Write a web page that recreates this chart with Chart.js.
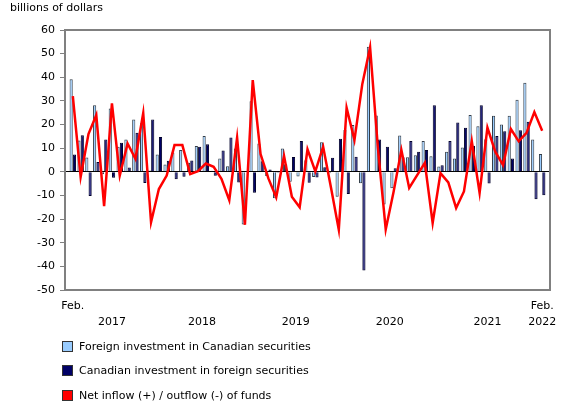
<!DOCTYPE html>
<html>
<head>
<meta charset="utf-8">
<script src="https://cdn.jsdelivr.net/npm/chart.js@4.4.1/dist/chart.umd.min.js"></script>
<style>
  body { margin: 0; background: #fff; font-family: "DejaVu Sans", Verdana, sans-serif; }
  #wrap { position: relative; width: 580px; height: 410px; }
  #legend { position: absolute; left: 62px; top: 340px; font-size: 11px; color: #000; }
  .item { display: flex; align-items: center; height: 12px; margin-bottom: 12.5px; }
  .box { width: 9px; height: 9px; border: 1px solid #333; margin-right: 6px; }
</style>
</head>
<body>
<div id="wrap">
  <canvas id="dataChart" width="580" height="410"></canvas>
  <div id="legend"></div>
</div>
<script>
// Feb. 2017 .. Feb. 2022, monthly (index 0 = Feb. 2017)
const startYear = 2017;
const startMonth = 1; // February
const months = [];
for (let i = 0; i < 61; i++) {
    const m = (startMonth + i) % 12;
    const y = startYear + Math.floor((startMonth + i) / 12);
    months.push(y + "-" + String(m + 1).padStart(2, "0"));
}

// billions of dollars
const foreignInCanada = [
    39.2, 13.3, 6.1, 28.2, -1.0, 26.8, 10.6, 13.7, 22.1, 20.5, 0.6, 7.3,
    3.1, 8.2, 9.2, 3.8, 10.9, 15.2, 0.4, 5.6, 2.4, 9.9, -22.3, 29.9,
    12.0, -1.8, -11.2, 9.9, -4.2, -2.0, 4.9, -2.2, 12.5, -0.6, -10.5, 17.7,
    19.8, -4.8, 52.9, 23.8, -13.8, -7.0, 15.4, 6.2, 7.0, 13.0, 6.6, 2.2,
    8.5, 5.6, 10.3, 24.0, 19.3, 13.8, 23.7, 20.0, 23.7, 30.5, 37.7, 13.7,
    7.5
];
const canadianAbroad = [
    7.3, 15.5, -10.2, 4.2, 13.7, -2.5, 12.3, 1.8, 16.5, -4.7, 22.1, 14.7,
    4.7, -3.1, -2.1, 4.8, 10.6, 11.7, -1.7, 9.0, 14.5, -4.5, 0.1, -8.9,
    4.5, 1.0, -0.4, 3.2, 6.3, 13.0, -4.6, -2.4, 1.9, 6.0, 14.0, -9.4,
    6.4, -41.8, 0.2, 13.7, 10.6, 1.5, 6.2, 13.0, 8.5, 9.2, 28.2, 2.8,
    13.0, 20.9, 18.6, 11.0, 28.2, -4.9, 15.2, 17.2, 5.6, 17.6, 21.2, -11.6,
    -9.9
];
const netFlow = [
    32.0, -2.2, 16.0, 24.0, -14.5, 29.0, -1.6, 12.0, 5.5, 24.8, -21.3, -7.3,
    -1.6, 11.3, 11.3, -1.0, 0.3, 3.5, 2.1, -3.0, -12.0, 14.4, -22.4, 38.8,
    7.5, -2.8, -10.8, 6.7, -10.5, -15.0, 9.5, 0.2, 10.6, -6.6, -24.5, 27.1,
    13.4, 37.0, 52.7, 10.1, -24.4, -8.5, 9.2, -6.8, -1.5, 3.8, -21.6, -0.6,
    -4.5, -15.3, -8.3, 13.0, -8.9, 18.7, 8.5, 2.8, 18.1, 12.9, 16.5, 25.3,
    17.4
];

// x-axis labels: position (month index) and text lines
const tickPositions = [0, 5, 16.5, 28.5, 40.5, 53, 60];
const tickLabels = [
    ["Feb.", ""], ["", "2017"], ["", "2018"], ["", "2019"],
    ["", "2020"], ["", "2021"], ["Feb.", "2022"]
];

const seriesNames = [
    "Foreign investment in Canadian securities",
    "Canadian investment in foreign securities",
    "Net inflow (+) / outflow (-) of funds"
];
const seriesColors = ["#99CCFF", "#000066", "#FF0000"];

const toPoints = (arr) => arr.map((v, i) => ({ x: i, y: v }));

const frame = {
    id: "frame",
    afterDraw(chart) {
        const { ctx, chartArea: a } = chart;
        ctx.save();
        ctx.strokeStyle = "#808080";
        ctx.lineWidth = 2;
        ctx.strokeRect(a.left, a.top, a.right - a.left, a.bottom - a.top);
        ctx.fillStyle = "#000";
        ctx.font = "11px 'DejaVu Sans'";
        ctx.textBaseline = "middle";
        ctx.fillText("billions of dollars", 10, 8);
        ctx.restore();
    }
};

const config = {
    data: {
        datasets: [{
            type: "bar",
            label: seriesNames[0],
            data: toPoints(foreignInCanada),
            backgroundColor: seriesColors[0],
            borderColor: "#333d48",
            borderWidth: 1,
            order: 1
        }, {
            type: "bar",
            label: seriesNames[1],
            data: toPoints(canadianAbroad),
            backgroundColor: seriesColors[1],
            borderColor: "#00002a",
            borderWidth: 1,
            order: 1
        }, {
            type: "line",
            label: seriesNames[2],
            data: toPoints(netFlow),
            borderColor: seriesColors[2],
            borderWidth: 2.5,
            pointRadius: 0,
            tension: 0,
            order: 0
        }]
    },
    options: {
        responsive: false,
        animation: false,
        layout: { padding: { top: 30, right: 30, bottom: 80, left: 0 } },
        plugins: { legend: { display: false }, tooltip: { enabled: false } },
        datasets: { bar: { categoryPercentage: 0.85, barPercentage: 0.95 } },
        scales: {
            x: {
                type: "linear",
                min: -1,
                max: 61,
                offset: false,
                grid: { display: false },
                border: { display: false },
                afterBuildTicks: (scale) => {
                    scale.ticks = tickPositions.map(v => ({ value: v }));
                },
                afterFit: (scale) => { scale.height = 40; },
                ticks: {
                    autoSkip: false,
                    maxRotation: 0,
                    padding: 0,
                    color: "#000",
                    font: { family: "DejaVu Sans", size: 11, lineHeight: 1.45 },
                    callback: (value) => tickLabels[tickPositions.indexOf(value)]
                }
            },
            y: {
                min: -50,
                max: 60,
                border: { display: false },
                grid: {
                    color: (ctx) => ctx.tick && ctx.tick.value === 0 ? "#000" : "rgba(0,0,0,0)",
                    tickColor: "#808080",
                    tickLength: 5,
                    lineWidth: 1
                },
                afterFit: (scale) => { scale.width = 65; },
                ticks: {
                    stepSize: 10,
                    padding: 5,
                    color: "#000",
                    font: { family: "DejaVu Sans", size: 11 }
                }
            }
        }
    },
    plugins: [frame]
};

const dataChart = new Chart(document.getElementById("dataChart"), config);

const legend = document.getElementById("legend");
seriesNames.forEach((name, i) => {
    const row = document.createElement("div");
    row.className = "item";
    row.innerHTML = '<span class="box" style="background:' + seriesColors[i] + '"></span>' + name;
    legend.appendChild(row);
});
</script>
</body>
</html>
